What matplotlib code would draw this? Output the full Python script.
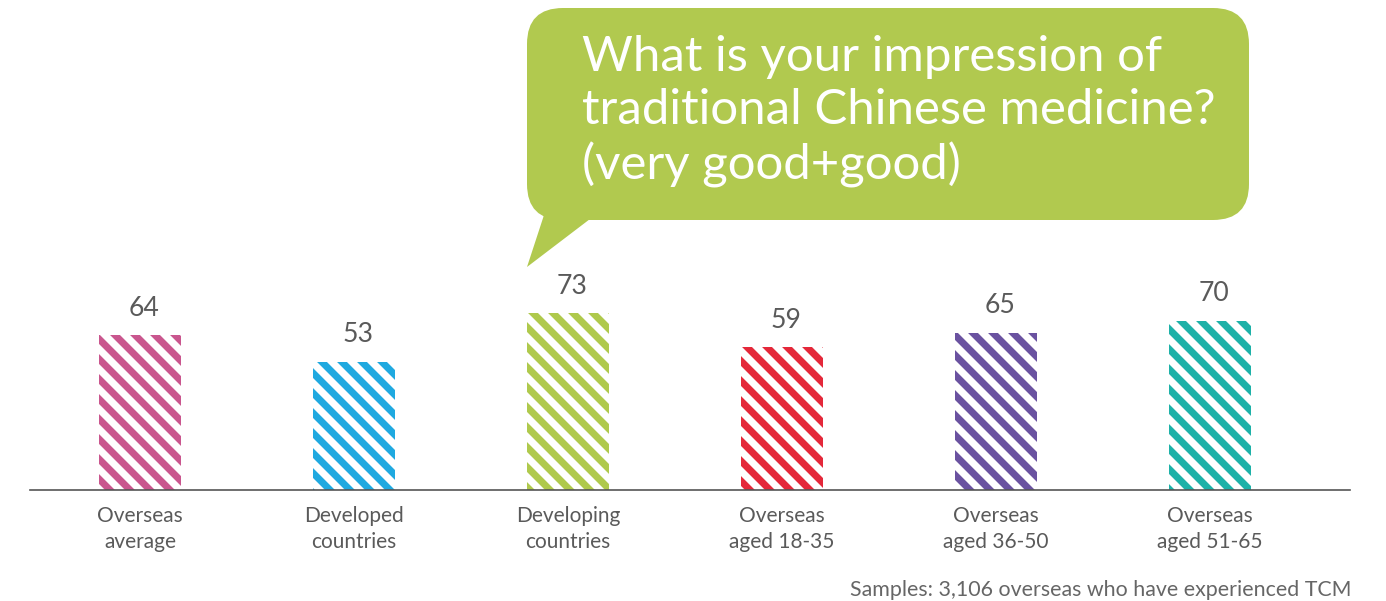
import matplotlib.pyplot as plt
from matplotlib.patches import FancyBboxPatch, Polygon

plt.rcParams['font.family'] = ['Lato', 'DejaVu Sans']
plt.rcParams['hatch.linewidth'] = 4.2

categories = ["Overseas\naverage", "Developed\ncountries", "Developing\ncountries",
              "Overseas\naged 18-35", "Overseas\naged 36-50", "Overseas\naged 51-65"]
values = [64, 53, 73, 59, 65, 70]
colors = ["#C9568E", "#1FA9E0", "#AFC94C", "#E4283A", "#6A52A0", "#1DB1A8"]

question = "What is your impression of\ntraditional Chinese medicine?\n(very good+good)"
note = "Samples: 3,106 overseas who have experienced TCM"

W, H, DPI = 1386, 601, 120
fig = plt.figure(figsize=(W / DPI, H / DPI), dpi=DPI)

# bar area: baseline at 490 px from the top, 1 unit = 2.42 px
ax = fig.add_axes([30 / W, (H - 490) / H, 1320 / W, 242 / H])
x = list(range(len(values)))
ax.bar(x, values, width=0.38, color="white", edgecolor=colors,
       linewidth=0, hatch="\\\\")
ax.set_xlim(-0.514, 5.654)
ax.set_ylim(0, 100)
for xi, v in zip(x, values):
    ax.text(xi + 0.02, v + 6, str(v), ha="center", va="bottom",
            fontsize=16, color="#5a5a5a")
for xi, c in zip(x, categories):
    ax.text(xi, -6.5, c, ha="center", va="top", fontsize=12.5,
            color="#5a5a5a", linespacing=1.4)
for s in ["top", "right", "left"]:
    ax.spines[s].set_visible(False)
ax.spines["bottom"].set_color("#555555")
ax.spines["bottom"].set_linewidth(1.0)
ax.set_xticks([])
ax.set_yticks([])

# overlay in pixel coordinates for the speech bubble and note
ov = fig.add_axes([0, 0, 1, 1])
ov.set_xlim(0, W)
ov.set_ylim(H, 0)
ov.axis("off")
ov.patch.set_alpha(0)

bubble_green = "#B1C94F"
ov.add_patch(FancyBboxPatch((527, 8), 722, 212,
                            boxstyle="round,pad=0,rounding_size=36",
                            facecolor=bubble_green, edgecolor="none"))
ov.add_patch(Polygon([(545, 212), (527, 267), (590, 219)],
                     closed=True, facecolor=bubble_green, edgecolor="none"))
ov.text(582, 35, question, ha="left", va="top", fontsize=29.5,
        color="white", linespacing=1.25)

ov.text(1352, 590, note, ha="right", va="center", fontsize=12.8,
        color="#666666")

fig.savefig("out.png", dpi=DPI)
